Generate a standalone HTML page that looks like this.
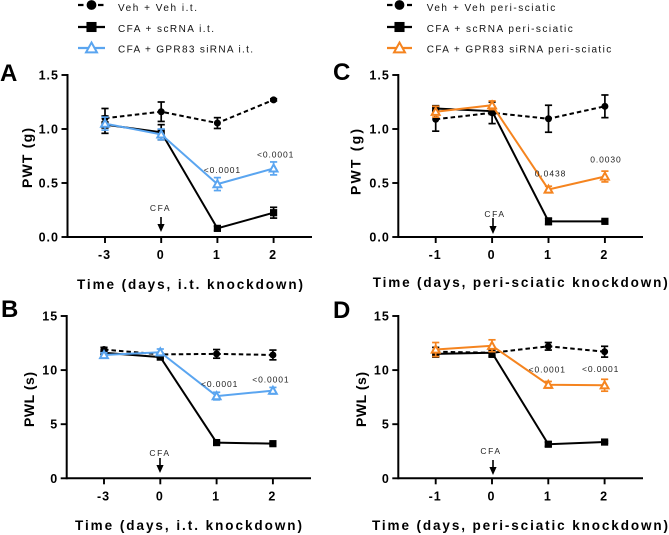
<!DOCTYPE html>
<html>
<head>
<meta charset="utf-8">
<style>
html,body{margin:0;padding:0;background:#fff;}
#figure{display:block;width:669px;height:535px;font-family:"Liberation Sans",sans-serif;filter:blur(0.3px);}
.tick{font-size:12.5px;font-weight:bold;fill:#000;}
.title{font-size:13.5px;font-weight:bold;fill:#000;}
.ytitle{font-size:14px;font-weight:bold;fill:#000;}
.legend{font-size:10px;fill:#111;}
.note{font-size:8.5px;fill:#222;}
.letter{font-size:24px;font-weight:bold;fill:#000;}
</style>
</head>
<body>
<svg id="figure" xmlns="http://www.w3.org/2000/svg" width="669" height="535" viewBox="0 0 669 535">
<g id="plots"></g>
<g>
<text class="legend" x="118" y="11" textLength="79" lengthAdjust="spacing">Veh + Veh i.t.</text>
<text class="legend" x="118" y="32" textLength="96" lengthAdjust="spacing">CFA + scRNA i.t.</text>
<text class="legend" x="118" y="52.5" textLength="135" lengthAdjust="spacing">CFA + GPR83 siRNA i.t.</text>
</g>
<g>
<text class="legend" x="426.7" y="11" textLength="128.5" lengthAdjust="spacing">Veh + Veh peri-sciatic</text>
<text class="legend" x="426.7" y="32" textLength="146" lengthAdjust="spacing">CFA + scRNA peri-sciatic</text>
<text class="legend" x="426.7" y="52.5" textLength="184.5" lengthAdjust="spacing">CFA + GPR83 siRNA peri-sciatic</text>
</g>
<text class="letter" x="0" y="81">A</text>
<text class="letter" x="1" y="317">B</text>
<text class="letter" x="333" y="80">C</text>
<text class="letter" x="333" y="318">D</text>
<text class="title" x="77" y="289" textLength="226" lengthAdjust="spacing">Time (days, i.t. knockdown)</text>
<text class="title" x="75" y="530" textLength="227" lengthAdjust="spacing">Time (days, i.t. knockdown)</text>
<text class="title" x="372.7" y="287" textLength="295" lengthAdjust="spacing">Time (days, peri-sciatic knockdown)</text>
<text class="title" x="372" y="530" textLength="296" lengthAdjust="spacing">Time (days, peri-sciatic knockdown)</text>
<text class="ytitle" transform="translate(32,188) rotate(-90)" textLength="60" lengthAdjust="spacing">PWT (g)</text>
<text class="ytitle" transform="translate(34,427) rotate(-90)" textLength="55" lengthAdjust="spacing">PWL (s)</text>
<text class="ytitle" transform="translate(360.5,195) rotate(-90)" textLength="66" lengthAdjust="spacing">PWT (g)</text>
<text class="ytitle" transform="translate(366,427) rotate(-90)" textLength="55" lengthAdjust="spacing">PWL (s)</text>
</svg>
<script>
// ---- chart data ----
const seriesNames = ['veh', 'scrna', 'sirna'];
const xCategoriesIt = ['-3', '0', '1', '2'];
const xCategoriesPeri = ['-1', '0', '1', '2'];
const yTicksPwt = ['0.0', '0.5', '1.0', '1.5'];
const yTicksPwl = ['0', '5', '10', '15'];

const pwtItVeh = [1.10, 1.16, 1.055, 1.27];
const pwtItVehErr = [0.09, 0.09, 0.05, 0.01];
const pwtItSc = [1.04, 0.97, 0.08, 0.225];
const pwtItScErr = [0.08, 0.07, 0.02, 0.05];
const pwtItSi = [1.05, 0.95, 0.49, 0.635];
const pwtItSiErr = [0.06, 0.05, 0.06, 0.06];
const pwtItP = ['', '', '<0.0001', '<0.0001'];

const pwlItVeh = [11.9, 11.45, 11.5, 11.4];
const pwlItVehErr = [0.2, 0.1, 0.4, 0.45];
const pwlItSc = [11.6, 11.2, 3.3, 3.2];
const pwlItScErr = [0.1, 0.1, 0.1, 0.1];
const pwlItSi = [11.4, 11.65, 7.6, 8.1];
const pwlItSiErr = [0.2, 0.3, 0.35, 0.3];
const pwlItP = ['', '', '<0.0001', '<0.0001'];

const pwtPeriVeh = [1.09, 1.15, 1.095, 1.21];
const pwtPeriVehErr = [0.11, 0.10, 0.125, 0.105];
const pwtPeriSc = [1.19, 1.165, 0.145, 0.145];
const pwtPeriScErr = [0.02, 0.03, 0.03, 0.01];
const pwtPeriSi = [1.16, 1.22, 0.44, 0.56];
const pwtPeriSiErr = [0.05, 0.04, 0.03, 0.05];
const pwtPeriP = ['', '', '0.0438', '0.0030'];

const pwlPeriVeh = [11.7, 11.6, 12.2, 11.7];
const pwlPeriVehErr = [0.4, 0.3, 0.35, 0.5];
const pwlPeriSc = [11.5, 11.6, 3.15, 3.35];
const pwlPeriScErr = [0.3, 0.4, 0.2, 0.1];
const pwlPeriSi = [11.9, 12.25, 8.65, 8.6];
const pwlPeriSiErr = [0.65, 0.55, 0.3, 0.55];
const pwlPeriP = ['', '', '<0.0001', '<0.0001'];

// ---- helpers ----
const NS = 'http://www.w3.org/2000/svg';
const BLUE = '#5aa5f0';
const ORANGE = '#f5841f';
const root = document.getElementById('plots');

function make(parent, tag, props) {
  const node = document.createElementNS(NS, tag);
  for (const k in props) node.setAttribute(k, props[k]);
  parent.appendChild(node);
  return node;
}

function addLine(parent, name, x1, y1, x2, y2, color, width, dash) {
  const el = make(parent, 'line', {x1: x1, y1: y1, x2: x2, y2: y2, stroke: color, 'stroke-width': width});
  if (dash) el.setAttribute('stroke-dasharray', dash);
  
  
  return el;
}

function addText(parent, name, cls, x, y, anchor, str) {
  const el = make(parent, 'text', {class: cls, x: x, y: y, 'text-anchor': anchor});
  el.textContent = str;
  
  
  return el;
}

function addMarker(parent, name, kind, cx, cy, color, scale) {
  let el;
  if (kind === 'veh') {
    el = make(parent, 'circle', {cx: cx, cy: cy, r: 3.5 * scale, fill: color});
  } else if (kind === 'scrna') {
    const s = 3.6 * scale;
    el = make(parent, 'rect', {x: cx - s, y: cy - s, width: 2 * s, height: 2 * s, fill: color});
  } else {
    const s = 3.9 * scale;
    el = make(parent, 'polygon', {
      points: [cx, cy - s, cx + s, cy + s * 0.8, cx - s, cy + s * 0.8].join(','),
      fill: '#fff', stroke: color, 'stroke-width': 2
    });
  }
  
  
  return el;
}

function drawPanel(p) {
  const g = make(root, 'g', {});
  
  

  const xPos = i => p.x0 + i * p.xStep;
  const yPos = v => p.bottom - (v / p.yMax) * (p.bottom - p.top);

  // axes
  addLine(g, 'y-axis-' + p.id, p.axisX, p.top - 1, p.axisX, p.bottom + 1, '#000', 2);
  addLine(g, 'x-axis-' + p.id, p.axisX, p.bottom, p.axisEnd, p.bottom, '#000', 2);

  p.yTicks.forEach((label, i) => {
    const y = yPos(parseFloat(label));
    addLine(g, 'y-tick-' + p.id + '-' + i, p.axisX - 6, y, p.axisX, y, '#000', 1.9);
    const t = addText(g, 'y-tick-label-' + p.id + '-' + i, 'tick', p.axisX - 8.5, y + 4.5, 'end', label);
    t.setAttribute('letter-spacing', '1');
  });
  p.categories.forEach((label, i) => {
    const x = xPos(i);
    addLine(g, 'x-tick-' + p.id + '-' + i, x, p.bottom, x, p.bottom + 6, '#000', 1.9);
    const t = addText(g, 'x-tick-label-' + p.id + '-' + i, 'tick', x - 0.5, p.bottom + 22, 'middle', label);
    t.setAttribute('letter-spacing', '1');
  });

  // series
  p.series.forEach((s, si) => {
    const sg = make(g, 'g', {});
    
    
    s.values.forEach((v, i) => {
      const x = xPos(i);
      const hi = yPos(v + s.err[i]);
      const lo = yPos(v - s.err[i]);
      addLine(sg, 'error-bar-' + p.id + '-' + seriesNames[si] + '-' + i, x, hi, x, lo, s.color, 1.7);
      addLine(sg, 'error-cap-top-' + p.id + '-' + seriesNames[si] + '-' + i, x - 3.6, hi, x + 3.6, hi, s.color, 1.7);
      addLine(sg, 'error-cap-bottom-' + p.id + '-' + seriesNames[si] + '-' + i, x - 3.6, lo, x + 3.6, lo, s.color, 1.7);
    });
    const line = make(sg, 'polyline', {
      points: s.values.map((v, i) => xPos(i) + ',' + yPos(v)).join(' '),
      fill: 'none', stroke: s.color, 'stroke-width': 2
    });
    if (seriesNames[si] === 'veh') line.setAttribute('stroke-dasharray', '4.5 3');
    
    
    s.values.forEach((v, i) => {
      addMarker(sg, 'point-' + p.id + '-' + seriesNames[si] + '-' + i, seriesNames[si], xPos(i), yPos(v), s.color, 1);
    });
  });

  // p-value labels, placed above the siRNA point
  p.pValues.forEach((label, i) => {
    if (!label) return;
    const v = p.series[2].values[i];
    const off = p.pOffsets[i];
    const n = addText(g, 'p-value-' + p.id + '-' + i, 'note', xPos(i) + off.dx, yPos(v) - off.dy, 'middle', label);
    n.setAttribute('letter-spacing', '0.9');
  });

  // CFA arrow
  const c = addText(g, 'cfa-label-' + p.id, 'note', p.cfa.labelX, p.cfa.labelY, 'middle', 'CFA');
  c.setAttribute('letter-spacing', '1.6');
  addLine(g, 'cfa-arrow-shaft-' + p.id, p.cfa.x, p.cfa.y1, p.cfa.x, p.cfa.y2 - 5, '#000', 1.6);
  const head = make(g, 'polygon', {
    points: [p.cfa.x - 3.6, p.cfa.y2 - 8, p.cfa.x + 3.6, p.cfa.y2 - 8, p.cfa.x, p.cfa.y2].join(','),
    fill: '#000'
  });
  
  
}

function drawLegendKey(name, kind, x1, x2, y, color) {
  const g = make(root, 'g', {});
  
  
  addLine(g, name + '-line', x1, y, x2, y, color, 2.2, kind === 'veh' ? '5.5 4.5' : null);
  addMarker(g, name + '-marker', kind, (x1 + x2) / 2, y, color, 1.4);
}

// ---- panels ----
drawPanel({
  id: 'a', x0: 105, xStep: 56.2, top: 75, bottom: 237, axisX: 67.5, axisEnd: 312, yMax: 1.5,
  categories: xCategoriesIt, yTicks: yTicksPwt,
  series: [
    {values: pwtItVeh, err: pwtItVehErr, color: '#000'},
    {values: pwtItSc, err: pwtItScErr, color: '#000'},
    {values: pwtItSi, err: pwtItSiErr, color: BLUE}
  ],
  pValues: pwtItP,
  pOffsets: [null, null, {dx: 5, dy: 11}, {dx: 2, dy: 11}],
  cfa: {labelX: 160.5, labelY: 211, x: 161, y1: 217, y2: 232}
});
drawPanel({
  id: 'b', x0: 104, xStep: 56.3, top: 316, bottom: 478.3, axisX: 66.7, axisEnd: 311, yMax: 15,
  categories: xCategoriesIt, yTicks: yTicksPwl,
  series: [
    {values: pwlItVeh, err: pwlItVehErr, color: '#000'},
    {values: pwlItSc, err: pwlItScErr, color: '#000'},
    {values: pwlItSi, err: pwlItSiErr, color: BLUE}
  ],
  pValues: pwlItP,
  pOffsets: [null, null, {dx: 3, dy: 9}, {dx: -2, dy: 8}],
  cfa: {labelX: 160, labelY: 456, x: 160, y1: 458, y2: 473}
});
drawPanel({
  id: 'c', x0: 435.7, xStep: 56.4, top: 75, bottom: 237, axisX: 398.3, axisEnd: 643, yMax: 1.5,
  categories: xCategoriesPeri, yTicks: yTicksPwt,
  series: [
    {values: pwtPeriVeh, err: pwtPeriVehErr, color: '#000'},
    {values: pwtPeriSc, err: pwtPeriScErr, color: '#000'},
    {values: pwtPeriSi, err: pwtPeriSiErr, color: ORANGE}
  ],
  pValues: pwtPeriP,
  pOffsets: [null, null, {dx: 2, dy: 13}, {dx: 1, dy: 14}],
  cfa: {labelX: 495, labelY: 217, x: 493, y1: 218, y2: 234}
});
drawPanel({
  id: 'd', x0: 435.7, xStep: 56.3, top: 316, bottom: 478.3, axisX: 398.3, axisEnd: 643, yMax: 15,
  categories: xCategoriesPeri, yTicks: yTicksPwl,
  series: [
    {values: pwlPeriVeh, err: pwlPeriVehErr, color: '#000'},
    {values: pwlPeriSc, err: pwlPeriScErr, color: '#000'},
    {values: pwlPeriSi, err: pwlPeriSiErr, color: ORANGE}
  ],
  pValues: pwlPeriP,
  pOffsets: [null, null, {dx: -1, dy: 12}, {dx: -4, dy: 13}],
  cfa: {labelX: 491, labelY: 454, x: 493, y1: 460, y2: 475}
});

drawLegendKey('legend-key-veh-it', 'veh', 78, 105, 5, '#000');
drawLegendKey('legend-key-scrna-it', 'scrna', 78, 105, 27, '#000');
drawLegendKey('legend-key-sirna-it', 'sirna', 78, 105, 48, BLUE);
drawLegendKey('legend-key-veh-peri', 'veh', 387, 412, 5, '#000');
drawLegendKey('legend-key-scrna-peri', 'scrna', 387, 412, 27, '#000');
drawLegendKey('legend-key-sirna-peri', 'sirna', 387, 412, 48, ORANGE);
</script>
</body>
</html>
